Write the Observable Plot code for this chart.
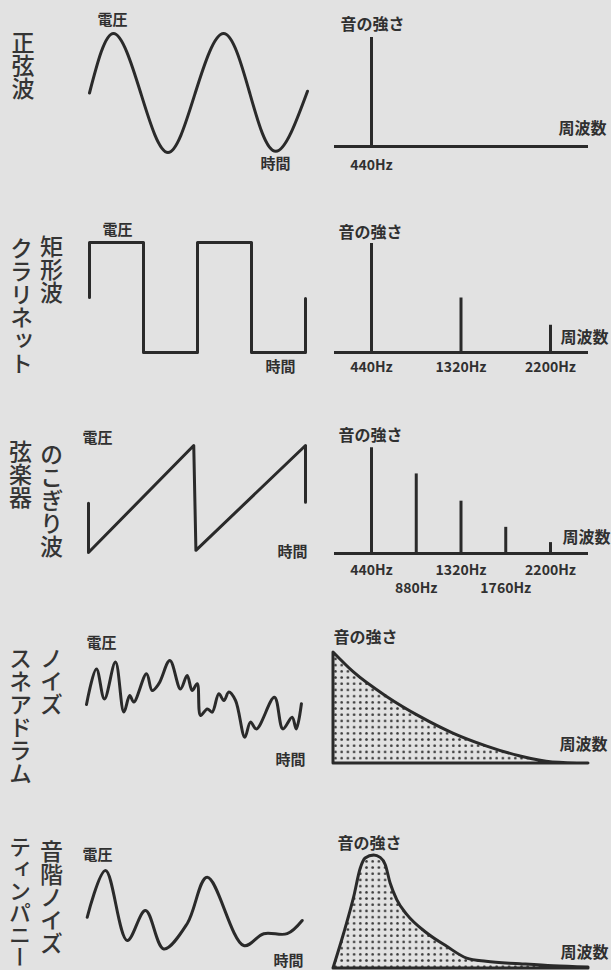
<!DOCTYPE html>
<html><head><meta charset="utf-8">
<script src="https://cdn.jsdelivr.net/npm/d3@7"></script>
<script src="https://cdn.jsdelivr.net/npm/@observablehq/plot@0.6"></script>
<style>
body{margin:0;background:#e2e2e2;}
#page{position:relative;width:611px;height:970px;overflow:hidden;background:#e2e2e2;font-family:"Noto Sans CJK JP","Noto Sans",sans-serif;color:#333;}
.panel{position:absolute;}
.vlabel{position:absolute;writing-mode:vertical-rl;font-size:23px;line-height:23px;width:23px;white-space:nowrap;color:#353535;font-weight:500;}
</style></head><body><div id="page"></div>
<script>
// ---------- text ----------
const waveNames = ["正弦波", "矩形波", "のこぎり波", "ノイズ", "音階ノイズ"];
const instrumentNames = ["", "クラリネット", "弦楽器", "スネアドラム", "ティンパニー"];
const voltLabel = "電圧";
const timeLabel = "時間";
const intensityLabel = "音の強さ";
const freqLabel = "周波数";

// ---------- waveforms (time in periods / normalised, voltage -1..1) ----------
const sineT = [0, 0.22, 0.47, 0.72, 0.97, 1.23, 1.47, 1.71, 2.0];
const sineV = [0, 1, 0, -1, 0, 1, 0, -0.98, 0.03];

const squareT = [0, 0, 0.5, 0.5, 1, 1, 1.5, 1.5, 2, 2];
const squareV = [0, 1, 1, -1, -1, 1, 1, -1, -1, -0.02];

const sawT = [0, 0, 0.97, 0.99, 2, 2];
const sawV = [-0.08, -1, 1, -0.96, 1, -0.06];

const noiseT = [0, 0.046, 0.083, 0.134, 0.173, 0.2, 0.219, 0.278, 0.304, 0.335, 0.386, 0.435, 0.466, 0.489, 0.5125, 0.528, 0.559, 0.582, 0.6125, 0.636, 0.659, 0.69, 0.733, 0.759, 0.787, 0.87, 0.909, 0.952, 0.971, 0.995];
const noiseV = [-0.1, 0.79, 0.04, 0.96, -0.29, 0.125, -0.04, 0.67, 0.25, 0.42, 1.0, 0.29, 0.625, 0.25, 0.42, -0.375, -0.21, -0.29, 0.17, 0, 0.21, 0, -0.92, -0.54, -0.71, 0.08, -0.71, -0.42, -0.71, -0.08];

const timpT = [0, 0.085, 0.186, 0.271, 0.356, 0.465, 0.558, 0.728, 0.821, 0.93, 1.0];
const timpV = [-0.17, 1.0, -0.75, 0, -0.96, -0.33, 0.83, -0.875, -0.58, -0.58, -0.25];

// ---------- spectra ----------
const sineFreq = [440];
const sineAmp = [1];
const squareFreq = [440, 1320, 2200];
const squareAmp = [1, 0.5, 0.25];
const sawFreq = [440, 880, 1320, 1760, 2200];
const sawAmp = [0.97, 0.73, 0.48, 0.24, 0.1];

const sineTicks = [440];
const squareTicks = [440, 1320, 2200];
const sawTicksUpper = [440, 1320, 2200];
const sawTicksLower = [880, 1760];

// continuous spectra (relative frequency 0..1, intensity 0..1)
const noiseSpecF = [0, 0.08, 0.21, 0.34, 0.47, 0.6, 0.73, 0.86, 1.0];
const noiseSpecA = [1.0, 0.82, 0.6, 0.42, 0.27, 0.155, 0.065, 0.01, 0];

const timpSpecF = [0, 0.042, 0.081, 0.107, 0.126, 0.159, 0.185, 0.205, 0.224, 0.25, 0.29, 0.368, 0.446, 0.524, 0.6, 0.733, 0.863, 1.0];
const timpSpecA = [0, 0.31, 0.63, 0.885, 0.973, 1.0, 0.979, 0.914, 0.752, 0.605, 0.472, 0.31, 0.192, 0.088, 0.059, 0.038, 0.02, 0.009];

// ---------- rendering ----------
const FONT = '"Noto Sans CJK JP", "Noto Sans", sans-serif';
const INK = "#2a2a2a";
const TXT = "#303030";
const page = document.getElementById("page");
const zip = (a, b, ka, kb) => a.map((d, i) => ({[ka]: d, [kb]: b[i]}));

function place(el, left, top) {
  const div = document.createElement("div");
  div.className = "panel";
  div.style.left = left + "px";
  div.style.top = top + "px";
  div.appendChild(el);
  page.appendChild(div);
}

function label(s, px, py, top, left, ml, size) {
  return Plot.text([s], {
    text: d => d, frameAnchor: "top-left",
    dx: px - left - ml, dy: py - top,
    textAnchor: "start", lineAnchor: "middle",
    fontSize: size, fontWeight: "bold", fill: TXT
  });
}

const rows = [
  {top: 0, height: 190,
   wave: {t: sineT, v: sineV, domain: [0, 2], xr: [89, 307], yr: [152, 33], curve: "natural"},
   volt: [97, 20], time: [260, 164],
   spec: {kind: "lines", f: sineFreq, a: sineAmp, yr: [146, 37], ticks: [[sineTicks, 19]]},
   inten: [340, 24], freq: [558, 128]},
  {top: 190, height: 200,
   wave: {t: squareT, v: squareV, domain: [0, 2], xr: [89, 305], yr: [162, 52], curve: "linear"},
   volt: [102, 230], time: [265, 367],
   spec: {kind: "lines", f: squareFreq, a: squareAmp, yr: [162, 53], ticks: [[squareTicks, 15]]},
   inten: [338, 232], freq: [560, 337]},
  {top: 390, height: 210,
   wave: {t: sawT, v: sawV, domain: [0, 2], xr: [88, 305], yr: [162, 55], curve: "linear"},
   volt: [82, 438], time: [277, 552],
   spec: {kind: "lines", f: sawFreq, a: sawAmp, yr: [163, 54], ticks: [[sawTicksUpper, 17], [sawTicksLower, 35]]},
   inten: [338, 435], freq: [562, 537]},
  {top: 600, height: 190,
   wave: {t: noiseT, v: noiseV, domain: [0, 1], xr: [86, 302], yr: [140, 60], curve: "catmull-rom"},
   volt: [86, 643], time: [275, 760],
   spec: {kind: "area", f: noiseSpecF, a: noiseSpecA, yr: [163, 52], id: "dots4"},
   inten: [333, 637], freq: [559, 744]},
  {top: 790, height: 180,
   wave: {t: timpT, v: timpV, domain: [0, 1], xr: [86.7, 301.7], yr: [160, 80], curve: "catmull-rom"},
   volt: [82, 855], time: [273, 961],
   spec: {kind: "area", f: timpSpecF, a: timpSpecA, yr: [178, 65], id: "dots5"},
   inten: [337, 843], freq: [560, 952]}
];

const styleBase = {background: "transparent", fontFamily: FONT, overflow: "visible"};

rows.forEach((r, i) => {
  // waveform
  const w = r.wave;
  const wsvg = Plot.plot({
    width: 320, height: r.height, margin: 0,
    style: styleBase,
    x: {domain: w.domain, range: w.xr, axis: null},
    y: {domain: [-1, 1], range: w.yr, axis: null},
    marks: [
      Plot.line(zip(w.t, w.v, "t", "v"), {x: "t", y: "v", curve: w.curve, stroke: INK, strokeWidth: 3, strokeLinejoin: "round", strokeLinecap: "round"}),
      label(voltLabel, r.volt[0], r.volt[1], r.top, 0, 0, 15),
      label(timeLabel, r.time[0], r.time[1], r.top, 0, 0, 15)
    ]
  });
  place(wsvg, 0, r.top);

  // spectrum
  const s = r.spec;
  const ML = 14, MR = 23, LEFT = 320;
  let marks;
  let xopt;
  if (s.kind === "lines") {
    xopt = {domain: [440, 2200], range: [51, 230], axis: null};
    marks = [
      Plot.ruleY([0], {stroke: INK, strokeWidth: 3}),
      Plot.ruleX(zip(s.f, s.a, "f", "a"), {x: "f", y1: 0, y2: "a", stroke: INK, strokeWidth: 3}),
      ...s.ticks.map(([tk, dy]) => Plot.text(tk, {x: d => d, y: 0, text: d => d + "Hz", dy, lineAnchor: "middle", fontSize: 14, fontWeight: "bold", fill: TXT}))
    ];
  } else {
    xopt = {domain: [0, 1], range: [13, 268], axis: null};
    marks = [
      Plot.areaY(zip(s.f, s.a, "f", "a"), {x: "f", y: "a", curve: "monotone-x", fill: `url(#${s.id})`, stroke: INK, strokeWidth: 3, strokeLinejoin: "round"})
    ];
  }
  marks.push(label(intensityLabel, r.inten[0], r.inten[1], r.top, LEFT, ML, 16));
  marks.push(label(freqLabel, r.freq[0], r.freq[1], r.top, LEFT, ML, 16));
  const ssvg = Plot.plot({
    width: 291, height: r.height, marginLeft: ML, marginRight: MR, marginTop: 0, marginBottom: 0,
    style: styleBase,
    x: xopt,
    y: {domain: [0, 1], range: s.yr, axis: null},
    marks
  });
  if (s.id) {
    const defs = document.createElementNS("http://www.w3.org/2000/svg", "defs");
    defs.innerHTML = `<pattern id="${s.id}" width="6.2" height="6.2" patternUnits="userSpaceOnUse"><circle cx="3.1" cy="3.1" r="1.35" fill="#3c3c3c"/></pattern>`;
    ssvg.insertBefore(defs, ssvg.firstChild);
  }
  place(ssvg, LEFT, r.top);
});

// vertical row titles
const titlePos = [
  {wave: [11, 31], inst: null},
  {wave: [39.5, 235], inst: [9.5, 237]},
  {wave: [39.5, 443], inst: [8.5, 440]},
  {wave: [39.5, 647], inst: [8.5, 647]},
  {wave: [39.5, 840], inst: [9, 836]}
];
titlePos.forEach((p, i) => {
  const add = (txt, [l, t], size) => {
    const d = document.createElement("div");
    d.className = "vlabel";
    d.style.left = l + "px";
    d.style.top = t + "px";
    if (size) { d.style.fontSize = size + "px"; d.style.lineHeight = size + "px"; d.style.width = size + "px"; }
    d.textContent = txt;
    page.appendChild(d);
  };
  if (i === 0) add(waveNames[0], p.wave);
  else {
    add(waveNames[i], p.wave);
    add(instrumentNames[i], p.inst, i === 4 ? 22 : null);
  }
});
</script></body></html>
